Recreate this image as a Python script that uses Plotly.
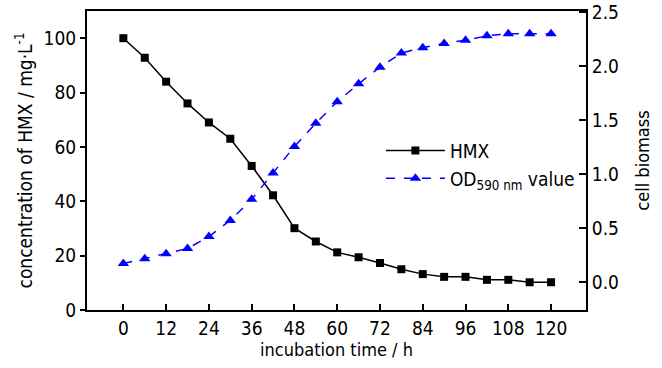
import plotly.graph_objects as go

time_h = [0, 6, 12, 18, 24, 30, 36, 42, 48, 54, 60, 66, 72, 78, 84, 90, 96, 102, 108, 114, 120]
hmx = [100, 92.8, 84, 76, 69, 63, 53, 42.2, 30.1, 25.2, 21.2, 19.4, 17.3, 15, 13.2, 12.2, 12.2, 11.1, 11.1, 10.2, 10.2]
od590 = [0.17, 0.215, 0.26, 0.31, 0.42, 0.57, 0.765, 1.01, 1.255, 1.47, 1.67, 1.835, 1.99, 2.12, 2.17, 2.21, 2.24, 2.28, 2.30, 2.30, 2.30]
x_ticks = [0, 12, 24, 36, 48, 60, 72, 84, 96, 108, 120]
left_ticks = [0, 20, 40, 60, 80, 100]
right_ticks = [0.0, 0.5, 1.0, 1.5, 2.0, 2.5]

FONT = "DejaVu Sans Condensed, Liberation Sans, Arial, sans-serif"

fig = go.Figure()
fig.add_trace(go.Scatter(
    x=time_h, y=hmx, name="HMX", mode="lines+markers",
    line=dict(color="black", width=1.5),
    marker=dict(symbol="square", size=8, color="black"),
    yaxis="y"))
fig.add_trace(go.Scatter(
    x=time_h, y=od590, name="OD<sub>590 nm</sub> value", mode="lines+markers",
    line=dict(color="#0000FF", width=1.5, dash="dash"),
    marker=dict(symbol="triangle-up", size=10, color="#0000FF"),
    yaxis="y2"))

axis_common = dict(showgrid=False, zeroline=False, showline=True, linecolor="black",
                   linewidth=2, tickcolor="black", tickwidth=1.5, automargin=False,
                   tickfont=dict(family=FONT, size=19, color="black"))

fig.update_layout(
    width=662, height=368,
    margin=dict(l=87, r=76, t=11, b=58),
    paper_bgcolor="white", plot_bgcolor="white",
    font=dict(family=FONT, color="black"),
    showlegend=True,
    legend=dict(x=0.589, y=0.486, xanchor="left", yanchor="middle",
                bgcolor="rgba(0,0,0,0)", font=dict(family=FONT, size=19, color="black"),
                itemwidth=59),
    xaxis=dict(range=[-10.2, 129.8], tickvals=x_ticks, ticks="inside", ticklen=6,
               mirror=True,
               title=dict(text="incubation time / h", font=dict(family=FONT, size=18), standoff=4),
               **axis_common),
    yaxis=dict(range=[0, 110], tickvals=left_ticks, ticks="outside", ticklen=5,
               title=dict(text="concentration of HMX / mg·L<sup>-1</sup>", font=dict(family=FONT, size=19), standoff=6),
               **axis_common),
    yaxis2=dict(range=[-0.26, 2.51], tickvals=right_ticks, tickformat=".1f", ticks="inside", ticklen=7,
                overlaying="y", side="right", ticklabeloverflow="allow",
                title=dict(text="cell biomass", font=dict(family=FONT, size=18), standoff=18),
                **axis_common),
)

fig.write_html("out.html", config={"displayModeBar": False},
               post_script="document.body.style.margin='0';")
